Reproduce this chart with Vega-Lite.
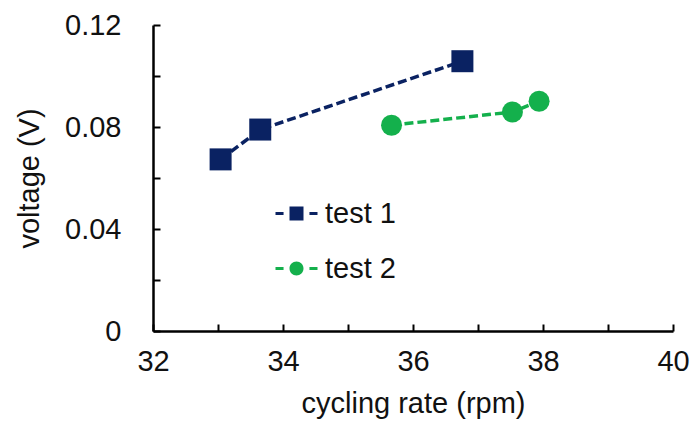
{
  "$schema": "https://vega.github.io/schema/vega-lite/v6.json",
  "width": 520,
  "height": 306,
  "autosize": {"type": "none"},
  "padding": {"left": 153, "top": 25, "right": 24, "bottom": 90},
  "background": "white",
  "config": {
    "view": {"stroke": null},
    "font": "Liberation Sans",
    "axis": {
      "grid": false,
      "domainColor": "black",
      "domainWidth": 2.5,
      "tickColor": "black",
      "tickWidth": 2,
      "tickSize": -7,
      "labelFont": "Liberation Sans",
      "labelFontSize": 29,
      "labelColor": "#111",
      "titleFont": "Liberation Sans",
      "titleFontSize": 29,
      "titleFontWeight": "normal",
      "titleColor": "#111"
    },
    "legend": {
      "title": null,
      "orient": "none",
      "padding": 0,
      "symbolSize": 196,
      "symbolStrokeWidth": 0,
      "labelFont": "Liberation Sans",
      "labelFontSize": 29,
      "labelColor": "#111",
      "labelOffset": 14
    }
  },
  "data": {
    "values": [
      {"series": "test 1", "rpm": 33.04, "voltage": 0.0673},
      {"series": "test 1", "rpm": 33.65, "voltage": 0.079},
      {"series": "test 1", "rpm": 36.76, "voltage": 0.1058},
      {"series": "test 2", "rpm": 35.67, "voltage": 0.0807},
      {"series": "test 2", "rpm": 37.53, "voltage": 0.0859},
      {"series": "test 2", "rpm": 37.94, "voltage": 0.0901}
    ]
  },
  "encoding": {
    "x": {
      "field": "rpm", "type": "quantitative",
      "scale": {"domain": [32, 40], "nice": false, "zero": false},
      "axis": {
        "title": "cycling rate (rpm)",
        "values": [32, 33, 34, 35, 36, 37, 38, 39, 40],
        "labelExpr": "datum.value % 2 == 0 ? datum.label : ''",
        "labelPadding": 23,
        "labelFlush": false,
        "titlePadding": 13
      }
    },
    "y": {
      "field": "voltage", "type": "quantitative",
      "scale": {"domain": [0, 0.12], "nice": false},
      "axis": {
        "title": "voltage (V)",
        "values": [0, 0.02, 0.04, 0.06, 0.08, 0.1, 0.12],
        "labelExpr": "round(datum.value * 100) % 4 == 0 ? (datum.value == 0 ? '0' : format(datum.value, '.2f')) : ''",
        "labelPadding": 39,
        "labelFlush": false,
        "titlePadding": 20
      }
    }
  },
  "layer": [
    {
      "transform": [{"filter": "datum.series == 'test 1'"}],
      "encoding": {
        "color": {
          "field": "series", "type": "nominal",
          "scale": {"domain": ["test 1"], "range": ["#0a2262"]},
          "legend": {
            "legendX": 129,
            "legendY": 174,
            "symbolType": "M-3,-0.22H-1.85V0.22H-3Z M-1,-1H1V1H-1Z M1.85,-0.22H3V0.22H1.85Z",
            "symbolFillColor": "#0a2262"
          }
        }
      },
      "layer": [
        {"mark": {"type": "line", "strokeDash": [9, 4], "strokeWidth": 3.5}},
        {"mark": {"type": "point", "shape": "square", "size": 484, "filled": true, "opacity": 1, "strokeWidth": 0}}
      ]
    },
    {
      "transform": [{"filter": "datum.series == 'test 2'"}],
      "encoding": {
        "color": {
          "field": "series", "type": "nominal",
          "scale": {"domain": ["test 2"], "range": ["#14b04c"]},
          "legend": {
            "legendX": 129,
            "legendY": 229,
            "symbolType": "M-3,-0.22H-1.85V0.22H-3Z M-1,0A1,1,0,1,1,1,0A1,1,0,1,1,-1,0Z M1.85,-0.22H3V0.22H1.85Z",
            "symbolFillColor": "#14b04c"
          }
        }
      },
      "layer": [
        {"mark": {"type": "line", "strokeDash": [9, 4], "strokeWidth": 3.5}},
        {"mark": {"type": "point", "shape": "circle", "size": 441, "filled": true, "opacity": 1, "strokeWidth": 0}}
      ]
    }
  ],
  "resolve": {"scale": {"color": "independent"}, "legend": {"color": "independent"}}
}
